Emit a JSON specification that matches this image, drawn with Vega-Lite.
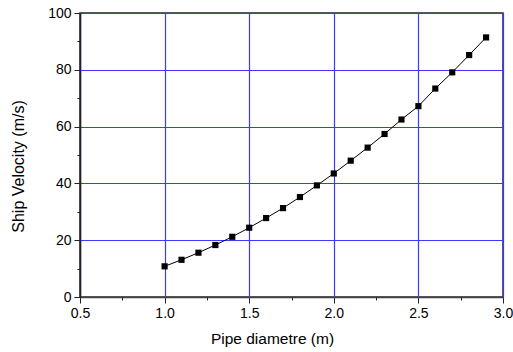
{
  "$schema": "https://vega.github.io/schema/vega-lite/v6.json",
  "width": 423,
  "height": 284,
  "autosize": {"type": "none"},
  "padding": {"left": 80, "top": 13, "right": 10, "bottom": 55},
  "background": "white",
  "config": {
    "view": {"stroke": "#222", "strokeWidth": 1.5},
    "font": "Liberation Sans",
    "axis": {"labelFont": "Liberation Sans", "titleFont": "Liberation Sans", "labelFontSize": 14, "titleFontSize": 15.5, "titleFontWeight": "normal", "labelColor": "#000", "titleColor": "#000"}
  },
  "data": {"values": [
    {"d": 1.0, "v": 10.8},
    {"d": 1.1, "v": 13.1},
    {"d": 1.2, "v": 15.6},
    {"d": 1.3, "v": 18.3},
    {"d": 1.4, "v": 21.2},
    {"d": 1.5, "v": 24.4},
    {"d": 1.6, "v": 27.8},
    {"d": 1.7, "v": 31.3},
    {"d": 1.8, "v": 35.2},
    {"d": 1.9, "v": 39.3},
    {"d": 2.0, "v": 43.5},
    {"d": 2.1, "v": 48.0},
    {"d": 2.2, "v": 52.6},
    {"d": 2.3, "v": 57.4},
    {"d": 2.4, "v": 62.5},
    {"d": 2.5, "v": 67.2},
    {"d": 2.6, "v": 73.4},
    {"d": 2.7, "v": 79.1},
    {"d": 2.8, "v": 85.2},
    {"d": 2.9, "v": 91.4}
  ]},
  "layer": [
    {
      "mark": {"type": "line", "color": "black", "strokeWidth": 1},
      "encoding": {
        "x": {"field": "d", "type": "quantitative", "scale": {"domain": [0.5, 3.0], "nice": false, "zero": false},
          "axis": {"orient": "bottom", "title": "Pipe diametre (m)", "titleX": 192, "values": [0.5, 1.0, 1.5, 2.0, 2.5, 3.0], "format": ".1f", "grid": true, "gridColor": "#3a3aff", "gridWidth": 1.2, "gridOpacity": 1, "domainColor": "#444", "domainWidth": 1.5, "tickColor": "#222", "tickSize": 6, "labelPadding": 3, "titlePadding": 11, "labelFlush": false}},
        "y": {"field": "v", "type": "quantitative", "scale": {"domain": [0, 100], "nice": false},
          "axis": {"orient": "left", "title": "Ship Velocity (m/s)", "titleFontSize": 16, "titleY": 153, "values": [0, 20, 40, 60, 80, 100], "grid": true, "gridColor": "#3a3aff", "gridWidth": 1.2, "gridOpacity": 1, "domainColor": "#222", "domainWidth": 1.5, "tickColor": "#222", "tickSize": 6, "labelPadding": 3, "titlePadding": 21}}
      }
    },
    {
      "mark": {"type": "point", "shape": "square", "filled": true, "color": "black", "size": 38, "opacity": 1},
      "encoding": {
        "x": {"field": "d", "type": "quantitative", "axis": null},
        "y": {"field": "v", "type": "quantitative", "axis": null}
      }
    },
    {
      "mark": {"type": "point", "opacity": 0},
      "encoding": {
        "x": {"field": "d", "type": "quantitative",
          "axis": {"orient": "bottom", "title": null, "values": [0.75, 1.25, 1.75, 2.25, 2.75], "labels": false, "grid": false, "domain": false, "tickSize": 3, "tickColor": "#222"}},
        "y": {"field": "v", "type": "quantitative",
          "axis": {"orient": "left", "title": null, "values": [10, 30, 50, 70, 90], "labels": false, "grid": false, "domain": false, "tickSize": 3, "tickColor": "#222"}}
      }
    }
  ],
  "resolve": {"axis": {"x": "independent", "y": "independent"}}
}
